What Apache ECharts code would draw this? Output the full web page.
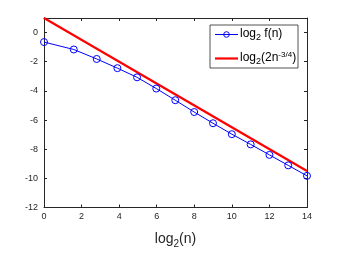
<!DOCTYPE html>
<html><head><meta charset="utf-8">
<script src="https://cdn.jsdelivr.net/npm/echarts@6/dist/echarts.min.js"></script>
<style>html,body{margin:0;padding:0;background:#fff}#c{width:339px;height:254px}</style>
</head><body><div id="c"></div>
<script>
const xValues = [0, 1.585, 2.807, 3.907, 4.954, 5.977, 6.989, 7.994, 8.997, 9.999, 11.0, 12.0, 13.0, 14.0];
const fValues = [-0.65, -1.16, -1.81, -2.44, -3.07, -3.84, -4.64, -5.45, -6.22, -6.97, -7.67, -8.39, -9.11, -9.83];
const boundX = [0, 14];
const boundY = [1, -9.5];
const xTicks = [0, 2, 4, 6, 8, 10, 12, 14];
const yTicks = [-12, -10, -8, -6, -4, -2, 0];
const seriesNames = ['f', 'bound'];

const chart = echarts.init(document.getElementById('c'), null, {renderer: 'canvas'});
const axisCol = '#262626';
const font = 'Liberation Sans, Arial, sans-serif';
const rich = {
  t: {fontSize: 12, fontFamily: font, fill: '#000', lineHeight: 15},
  s: {fontSize: 9, fontFamily: font, fill: '#000', lineHeight: 15, padding: [7, 0, 0, 0]},
  p: {fontSize: 8, fontFamily: font, fill: '#000', lineHeight: 15, padding: [0, 0, 6, 0]}
};
const axisCommon = {
  axisLine: {show: true, onZero: false, lineStyle: {color: axisCol, width: 1}},
  axisTick: {show: true, inside: true, length: 3, lineStyle: {color: axisCol}},
  splitLine: {show: false}
};
chart.setOption({
  animation: false,
  backgroundColor: '#fff',
  grid: {left: 44, right: 32, top: 18, bottom: 37},
  graphic: [
    {type: 'rect', shape: {x: 210, y: 25, width: 88, height: 43},
     style: {fill: '#fff', stroke: '#262626', lineWidth: 0.8}, z: 100},
    {type: 'line', shape: {x1: 215, y1: 34.5, x2: 238, y2: 34.5},
     style: {stroke: '#0000ff', lineWidth: 1}, z: 101},
    {type: 'circle', shape: {cx: 226.5, cy: 34.5, r: 2.8},
     style: {fill: 'none', stroke: '#0000ff', lineWidth: 1}, z: 102},
    {type: 'line', shape: {x1: 215, y1: 58.5, x2: 238, y2: 58.5},
     style: {stroke: '#ff0000', lineWidth: 2.2}, z: 101},
    {type: 'text', left: 240, top: 26, z: 101,
     style: {text: '{t|log}{s|2}{t| f(n)}', rich: rich}},
    {type: 'text', left: 240, top: 50, z: 101,
     style: {text: '{t|log}{s|2}{t|(2n}{p|-3/4}{t|)}', rich: rich}}
  ],
  xAxis: [Object.assign({
    type: 'value', min: 0, max: 14, interval: 2, position: 'bottom',
    name: '{t|log}{s|2}{t|(n)}', nameLocation: 'middle', nameGap: 23,
    nameTextStyle: {rich: {
      t: {fontSize: 14, fontFamily: font, color: '#262626', lineHeight: 18},
      s: {fontSize: 10, fontFamily: font, color: '#262626', lineHeight: 18, padding: [9, 0, 0, 0]}
    }},
    axisLabel: {color: '#262626', fontSize: 9, fontFamily: font, margin: 5}
  }, axisCommon), Object.assign({
    type: 'value', min: 0, max: 14, interval: 2, position: 'top',
    axisLabel: {show: false}
  }, axisCommon)],
  yAxis: [Object.assign({
    type: 'value', min: -12, max: 1, interval: 2, position: 'left',
    axisLabel: {color: '#262626', fontSize: 9, fontFamily: font, margin: 6,
      formatter: v => yTicks.includes(v) ? String(v) : ''}
  }, axisCommon), Object.assign({
    type: 'value', min: -12, max: 1, interval: 2, position: 'right',
    axisLabel: {show: false}
  }, axisCommon)],
  series: [{
    name: 'f', type: 'line', xAxisIndex: 0, yAxisIndex: 0,
    data: xValues.map((x, i) => [x, fValues[i]]),
    symbol: 'circle', symbolSize: 7, showSymbol: true,
    lineStyle: {color: '#0000ff', width: 1},
    itemStyle: {color: 'none', borderColor: '#0000ff', borderWidth: 1},
    z: 3
  }, {
    name: 'bound', type: 'line', xAxisIndex: 0, yAxisIndex: 0,
    data: boundX.map((x, i) => [x, boundY[i]]),
    symbol: 'none',
    lineStyle: {color: '#ff0000', width: 2.2},
    itemStyle: {color: '#ff0000'},
    z: 2
  }]
});
</script></body></html>
